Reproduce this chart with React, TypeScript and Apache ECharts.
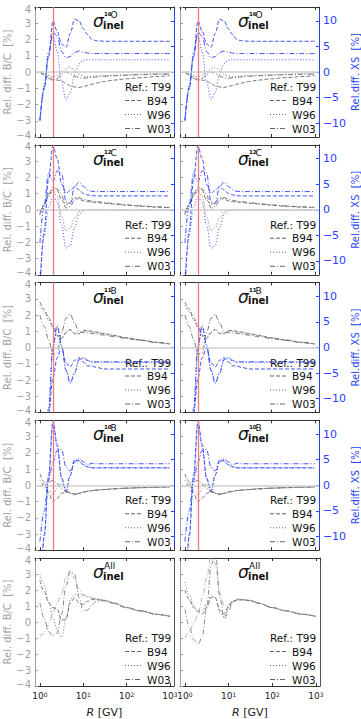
import React, { useEffect, useRef } from 'react';
import * as echarts from 'echarts';

// Rigidity grid (GV)
const R = [1, 1.26, 1.58, 2, 2.5, 3.16, 4, 5, 6.3, 8, 10, 12.6, 15.8, 20, 31.6, 50, 100, 200, 500, 1000];

// ---- 16O ----
const bcO_B94 = [0, -0.15, -0.3, -0.45, -0.5, -0.55, -0.7, -0.85, -0.92, -0.95, -0.9, -0.82, -0.75, -0.68, -0.58, -0.5, -0.42, -0.35, -0.28, -0.22];
const bcO_W96 = [0, -0.1, -0.2, -0.3, -0.2, 0, 0.2, 0.3, 0.1, -0.15, -0.25, -0.28, -0.27, -0.25, -0.22, -0.2, -0.17, -0.14, -0.11, -0.1];
const bcO_W03 = [0, -0.2, -0.4, -0.52, -0.4, -0.15, 0, -0.1, -0.25, -0.35, -0.38, -0.36, -0.33, -0.3, -0.26, -0.23, -0.2, -0.17, -0.14, -0.12];
const xsO_B94 = [-9.6, -3.3, 3.1, 10, 8, 5.5, 4.8, 7.5, 10.3, 10, 8.5, 7.3, 6.4, 6.1, 6, 6, 6, 6, 6, 6];
const xsO_W96 = [-9.3, -2.5, 4, 7.3, 4, -2, -5.4, -4, -0.5, 1.6, 2.3, 2.4, 2.4, 2.4, 2.4, 2.4, 2.4, 2.4, 2.4, 2.4];
const xsO_W03 = [-9.4, -3, 3, 7.8, 7, 4, 2.8, 3, 3.8, 4.1, 3.9, 3.7, 3.6, 3.6, 3.6, 3.6, 3.6, 3.6, 3.6, 3.6];

// ---- 12C ----
const bcC_B94 = [-0.3, 0.3, 0.9, 1.4, 1.2, 0.6, 0.3, 0.5, 0.75, 0.65, 0.55, 0.5, 0.47, 0.45, 0.4, 0.35, 0.28, 0.22, 0.16, 0.12];
const bcC_W96 = [-0.3, 0.2, 0.8, 1.2, 0.8, -0.4, -1.3, -1.1, -0.5, -0.1, 0, 0.02, 0.02, 0.02, 0.01, 0.01, 0, 0, 0, 0];
const bcC_W03 = [-0.2, 0.4, 1.0, 1.1, 1.3, 0.9, 0.1, 0.2, 0.6, 0.75, 0.65, 0.58, 0.53, 0.5, 0.44, 0.38, 0.3, 0.24, 0.18, 0.15];
const xsC_B94 = [-16, -4, 6, 12.5, 10, 5, 3.2, 3.8, 4.5, 3.9, 3.2, 2.9, 2.75, 2.7, 2.7, 2.7, 2.7, 2.7, 2.7, 2.7];
const xsC_W96 = [-13, -5, 0.5, 2.5, 1.5, -3, -7.5, -7, -3.5, -1, -0.2, -0.1, -0.1, -0.1, -0.1, -0.1, -0.1, -0.1, -0.1, -0.1];
const xsC_W03 = [-6.5, 1, 7.2, 5.5, 7.6, 7.2, 1.5, 1.2, 4.5, 5.4, 4.6, 3.9, 3.6, 3.55, 3.55, 3.55, 3.55, 3.55, 3.55, 3.55];

// ---- 11B ----
const bcB11_B94 = [2.8, 2.35, 1.85, 1.3, 0.75, 0.55, 0.9, 1.1, 0.85, 0.85, 1.05, 1.05, 1.0, 0.95, 0.85, 0.75, 0.6, 0.48, 0.32, 0.22];
const bcB11_W96 = [2.6, 2.2, 1.7, 1.2, 0.7, 0.6, 0.95, 1.1, 0.9, 0.85, 1.0, 1.0, 0.95, 0.92, 0.83, 0.73, 0.58, 0.46, 0.31, 0.2];
const bcB11_W03 = [2.0, 1.3, 0.5, -0.45, -0.3, 0.9, 1.8, 2.05, 1.5, 0.95, 0.92, 0.9, 0.87, 0.83, 0.75, 0.67, 0.55, 0.44, 0.3, 0.2];
const xsB11_B94 = [-35, -25, -13, -6, -2, 0, -3, -3.8, -2.5, -2, -2.8, -3.6, -3.6, -3.9, -4.2, -4.2, -4.2, -4.2, -4.2, -4.2];
const xsB11_W96 = [-31, -21, -13, -0.5, 4, 0.3, -4.3, -6.8, -5, -2.5, -2.1, -2.6, -2.9, -2.9, -2.9, -2.9, -2.9, -2.9, -2.9, -2.9];
const xsB11_W03 = [-30, -20, -12, 0.5, 4.3, 0.5, -4.5, -7.1, -5, -2.3, -2, -2.5, -2.8, -2.8, -2.8, -2.8, -2.8, -2.8, -2.8, -2.8];

// ---- 10B ----
const bcB10_B94 = [0.7, 0.2, -0.5, -1.0, -0.8, -0.5, -0.4, -0.45, -0.55, -0.5, -0.42, -0.37, -0.33, -0.3, -0.26, -0.22, -0.18, -0.15, -0.12, -0.1];
const bcB10_W96 = [0.3, 0, -0.3, -0.6, -0.2, 0.1, -0.2, -0.5, -0.6, -0.5, -0.42, -0.37, -0.33, -0.3, -0.26, -0.22, -0.18, -0.15, -0.12, -0.1];
const bcB10_W03 = [-0.1, 0.1, 0.2, 0.3, 0.1, -0.2, -0.4, -0.5, -0.55, -0.5, -0.42, -0.37, -0.33, -0.3, -0.26, -0.22, -0.18, -0.15, -0.12, -0.1];
const xsB10_B94 = [-25, -10, 1.5, 12.6, 8, 1.5, -1.2, 2, 5, 4.8, 4, 3.6, 3.4, 3.4, 3.4, 3.4, 3.4, 3.4, 3.4, 3.4];
const xsB10_W96 = [-24, -9.5, 2, 12, 7.5, 1.2, -1.4, 1.8, 4.8, 4.7, 4, 3.6, 3.4, 3.4, 3.4, 3.4, 3.4, 3.4, 3.4, 3.4];
const xsB10_W03 = [-11, -5, 1, 4.5, 6.8, 7, 3.5, 2.8, 4.5, 5.2, 4.6, 4, 4.3, 4.2, 4.2, 4.2, 4.2, 4.2, 4.2, 4.2];

// ---- All (left and right columns differ) ----
const bcAllL_B94 = [2.6, 1.9, 1.2, 0.9, 0.8, 0.1, 0.2, 1.2, 1.5, 1.2, 1.1, 1.3, 1.4, 1.4, 1.33, 1.17, 0.9, 0.7, 0.48, 0.35];
const bcAllL_W96 = [3.0, 2.3, 1.3, 0.3, -0.5, -0.95, 0.2, 1.4, 1.7, 1.75, 1.65, 1.57, 1.5, 1.45, 1.35, 1.2, 0.92, 0.7, 0.48, 0.35];
const bcAllL_W03 = [1.2, 0.2, -0.6, -0.85, -0.7, 0.5, 2.3, 3.15, 3.0, 1.5, 0.7, 0.75, 1.1, 1.3, 1.33, 1.17, 0.9, 0.7, 0.48, 0.35];
const bcAllL_W03b = [-0.9, -0.7, -0.2, 0.6, 1.2, 1.8, 2.8, 3.2, 2.7, 2.0, 1.7, 1.6, 1.5, 1.45, 1.35, 1.18, 0.9, 0.7, 0.48, 0.35];
const bcAllR_B94 = [2.0, 1.4, 0.9, 0.65, 0.5, 0.9, 1.55, 1.5, 0.7, 0.5, 1.0, 1.3, 1.35, 1.38, 1.33, 1.17, 0.9, 0.7, 0.48, 0.35];
const bcAllR_W96 = [2.5, 1.7, 1.0, 0.75, 0.7, 1.1, 1.7, 1.5, 0.6, 0.3, 0.9, 1.3, 1.4, 1.4, 1.33, 1.17, 0.9, 0.7, 0.48, 0.35];
const bcAllR_W03 = [0.8, -0.3, -1.1, -1.4, -0.9, 1.0, 3.6, 4.3, 1.5, 0.2, 0.7, 1.25, 1.4, 1.4, 1.33, 1.17, 0.9, 0.7, 0.48, 0.35];
const bcAllR_W03b = [-1.0, -0.6, -0.1, 0.5, 1.5, 2.8, 4.3, 3.6, 1.8, 1.0, 1.1, 1.35, 1.45, 1.42, 1.35, 1.18, 0.9, 0.7, 0.48, 0.35];

const LEGEND_NAMES = ['B94', 'W96', 'W03'];
const REF_LABEL = 'Ref.: T99';
const Y_LEFT_TICKS = [-4, -3, -2, -1, 0, 1, 2, 3, 4];
const Y_RIGHT_TICKS = [-10, -5, 0, 5, 10];
const R_CUT = 2; // vertical marker (GV)

type Panel = { iso: string; el: string; bc: number[][]; xs: number[][]; extra?: number[] };
const PANELS: Panel[][] = [
  [
    { iso: '16', el: 'O', bc: [bcO_B94, bcO_W96, bcO_W03], xs: [xsO_B94, xsO_W96, xsO_W03] },
    { iso: '16', el: 'O', bc: [bcO_B94, bcO_W96, bcO_W03], xs: [xsO_B94, xsO_W96, xsO_W03] },
  ],
  [
    { iso: '12', el: 'C', bc: [bcC_B94, bcC_W96, bcC_W03], xs: [xsC_B94, xsC_W96, xsC_W03] },
    { iso: '12', el: 'C', bc: [bcC_B94, bcC_W96, bcC_W03], xs: [xsC_B94, xsC_W96, xsC_W03] },
  ],
  [
    { iso: '11', el: 'B', bc: [bcB11_B94, bcB11_W96, bcB11_W03], xs: [xsB11_B94, xsB11_W96, xsB11_W03] },
    { iso: '11', el: 'B', bc: [bcB11_B94, bcB11_W96, bcB11_W03], xs: [xsB11_B94, xsB11_W96, xsB11_W03] },
  ],
  [
    { iso: '10', el: 'B', bc: [bcB10_B94, bcB10_W96, bcB10_W03], xs: [xsB10_B94, xsB10_W96, xsB10_W03] },
    { iso: '10', el: 'B', bc: [bcB10_B94, bcB10_W96, bcB10_W03], xs: [xsB10_B94, xsB10_W96, xsB10_W03] },
  ],
  [
    { iso: '', el: 'All', bc: [bcAllL_B94, bcAllL_W96, bcAllL_W03], xs: [], extra: bcAllL_W03b },
    { iso: '', el: 'All', bc: [bcAllR_B94, bcAllR_W96, bcAllR_W03], xs: [], extra: bcAllR_W03b },
  ],
];

// layout / style constants
const FONT = 'DejaVu Sans';
const GRID_LEFT = [35, 180];
const GRID_W = [139, 140];
const GRID_TOP0 = 7;
const ROW_STEP = 137.75;
const GRID_H = 130;
const X_MIN = 0.77;
const X_MAX = 1240;
const Y2 = 12.7;
const GRAY = '#777';
const LIGHTGRAY = '#c4c4c4';
const AXGRAY = '#a0a0a0';
const BLUE = '#2a40ff';
const DASHES = [[4, 2], [1, 2], [5, 2, 1, 2]];

const minus = (v: number) => String(v).replace('-', '\u2212');

function buildOption() {
  const grid: any[] = [];
  const xAxis: any[] = [];
  const yAxis: any[] = [];
  const series: any[] = [];
  const graphic: any[] = [];

  PANELS.forEach((row, r) => {
    row.forEach((p, c) => {
      const i = r * 2 + c;
      const left = GRID_LEFT[c];
      const top = GRID_TOP0 + r * ROW_STEP;
      const w = GRID_W[c];
      const isBottom = r === PANELS.length - 1;
      const hasXS = p.xs.length > 0;
      grid.push({ left, top, width: w, height: GRID_H, containLabel: false });

      xAxis.push({
        type: 'log', logBase: 10, gridIndex: i, min: X_MIN, max: X_MAX, position: 'bottom',
        axisLine: { show: true, onZero: false, lineStyle: { color: '#333', width: 1 } },
        axisTick: { show: true, inside: true, length: 3, lineStyle: { color: '#333' } },
        splitLine: { show: false },
        axisLabel: {
          show: isBottom, showMinLabel: false, showMaxLabel: false, color: '#222',
          fontSize: 9, fontFamily: FONT, margin: 5,
          formatter: (v: number) => `10{s|${Math.round(Math.log10(v))}}`,
          rich: { s: { fontSize: 6, fontFamily: FONT, verticalAlign: 'top', color: '#222' } },
        },
        name: isBottom ? '{i|R} [GV]' : '', nameLocation: 'middle', nameGap: 21,
        nameTextStyle: {
          fontSize: 11, fontFamily: FONT, color: '#222',
          rich: { i: { fontStyle: 'italic', fontSize: 11, fontFamily: FONT, color: '#222' } },
        },
      });
      xAxis.push({
        type: 'log', logBase: 10, gridIndex: i, min: X_MIN, max: X_MAX, position: 'top',
        axisLine: { show: true, onZero: false, lineStyle: { color: '#333', width: 1 } },
        axisTick: { show: true, inside: true, length: 3, lineStyle: { color: '#333' } },
        splitLine: { show: false }, axisLabel: { show: false },
      });
      yAxis.push({
        type: 'value', gridIndex: i, min: -4, max: 4, interval: 1, position: 'left',
        axisLine: { show: true, onZero: false, lineStyle: { color: AXGRAY, width: 1 } },
        axisTick: { show: true, inside: true, length: 3, lineStyle: { color: AXGRAY } },
        splitLine: { show: false },
        axisLabel: {
          show: c === 0, color: AXGRAY, fontSize: 10, fontFamily: FONT, margin: 4,
          formatter: (v: number) => {
            if (!Y_LEFT_TICKS.includes(v)) return '';
            if (v === Y_LEFT_TICKS[Y_LEFT_TICKS.length - 1]) return `{t|${minus(v)}}`;
            if (v === Y_LEFT_TICKS[0]) return `{b|${minus(v)}}`;
            return minus(v);
          },
          rich: {
            t: { fontSize: 10, fontFamily: FONT, color: AXGRAY, padding: [4, 0, 0, 0] },
            b: { fontSize: 10, fontFamily: FONT, color: AXGRAY, padding: [0, 0, 4, 0] },
          },
        },
        name: c === 0 ? 'Rel. diff. B/C  [%]' : '', nameLocation: 'middle', nameGap: 20, nameRotate: 90,
        nameTextStyle: { color: AXGRAY, fontSize: 10, fontFamily: FONT },
      });
      yAxis.push({
        type: 'value', gridIndex: i, min: -Y2, max: Y2, position: 'right',
        axisLine: { show: true, onZero: false, lineStyle: { color: hasXS ? BLUE : '#555', width: 1 } },
        axisTick: { show: hasXS, inside: true, length: 3, customValues: Y_RIGHT_TICKS, lineStyle: { color: BLUE } },
        splitLine: { show: false },
        axisLabel: {
          show: c === 1 && hasXS, color: BLUE, fontSize: 11, fontFamily: FONT, margin: 4,
          customValues: Y_RIGHT_TICKS, formatter: (v: number) => minus(v),
        },
        name: c === 1 && hasXS ? 'Rel.diff. XS  [%]' : '', nameLocation: 'middle', nameGap: 26, nameRotate: 90,
        nameTextStyle: { color: BLUE, fontSize: 10, fontFamily: FONT },
      });

      // reference line (T99) + cut marker, only in single-XS panels
      if (hasXS) {
        series.push({
          type: 'line', xAxisIndex: 2 * i, yAxisIndex: 2 * i, data: [], z: 1, silent: true,
          markLine: {
            silent: true, symbol: ['none', 'none'], label: { show: false }, animation: false,
            data: [
              { yAxis: 0, lineStyle: { color: '#cfcfcf', width: 1.6, type: 'solid' } },
              { xAxis: R_CUT, lineStyle: { color: '#ee7a7a', width: 1.3, type: 'solid' } },
            ],
          },
        });
      }

      const mk = (vals: number[], yIdx: number, color: string, dash: number[], width = 1) => ({
        type: 'line', xAxisIndex: 2 * i, yAxisIndex: yIdx, showSymbol: false, symbol: 'none',
        smooth: 0.35, smoothMonotone: 'x', z: 3, silent: true,
        lineStyle: { color, width, type: dash },
        data: R.map((x, k) => [x, vals[k]]),
      });
      if (p.extra) series.push(mk(p.extra, 2 * i, LIGHTGRAY, DASHES[2], 1.2));
      p.bc.forEach((vals, k) => series.push(mk(vals, 2 * i, k === 2 && p.extra ? '#8a8a8a' : GRAY, DASHES[k])));
      p.xs.forEach((vals, k) => series.push(mk(vals, 2 * i + 1, BLUE, DASHES[k], 0.9)));

      // panel title sigma^{iso el}_{inel}
      const tx = left + 58;
      graphic.push({
        type: 'text', x: tx, y: top + 14, silent: true,
        style: { text: '\u03c3', fontSize: 17, fontStyle: 'italic', fontFamily: FONT, fill: '#111', verticalAlign: 'middle' },
      });
      if (p.iso) {
        graphic.push({
          type: 'text', x: tx + 11, y: top + 7, silent: true,
          style: { text: p.iso, fontSize: 5.5, fontWeight: 'bold', fontFamily: FONT, fill: '#111', verticalAlign: 'middle' },
        });
        graphic.push({
          type: 'text', x: tx + 17.5, y: top + 8, silent: true,
          style: { text: p.el, fontSize: 9, fontFamily: FONT, fill: '#111', verticalAlign: 'middle' },
        });
      } else {
        graphic.push({
          type: 'text', x: tx + 11, y: top + 8, silent: true,
          style: { text: p.el, fontSize: 9, fontFamily: FONT, fill: '#111', verticalAlign: 'middle' },
        });
      }
      graphic.push({
        type: 'text', x: tx + 10, y: top + 18, silent: true,
        style: { text: 'inel', fontSize: 10, fontWeight: 'bold', fontFamily: FONT, fill: '#111', verticalAlign: 'middle' },
      });

      // legend
      graphic.push({
        type: 'text', x: left + 90, y: top + 80, silent: true,
        style: { text: REF_LABEL, fontSize: 10.5, fontFamily: FONT, fill: '#111', verticalAlign: 'middle' },
      });
      LEGEND_NAMES.forEach((nm, k) => {
        const ly = top + 93.5 + k * 14;
        graphic.push({
          type: 'line', silent: true,
          shape: { x1: left + 90, y1: ly, x2: left + 106, y2: ly },
          style: { stroke: '#666', lineWidth: 1, lineDash: DASHES[k] },
        });
        graphic.push({
          type: 'text', x: left + 112, y: ly, silent: true,
          style: { text: nm, fontSize: 10.5, fontFamily: FONT, fill: '#111', verticalAlign: 'middle' },
        });
      });
    });
  });

  return {
    animation: false,
    backgroundColor: '#fff',
    textStyle: { fontFamily: FONT },
    grid, xAxis, yAxis, series, graphic,
  };
}

export default function App() {
  const ref = useRef<HTMLDivElement>(null);
  useEffect(() => {
    if (!ref.current) return;
    const chart = echarts.init(ref.current, undefined, { renderer: 'svg' });
    chart.setOption(buildOption() as any);
    return () => chart.dispose();
  }, []);
  return <div ref={ref} style={{ position: 'fixed', left: 0, top: 0, width: 361, height: 719 }} />;
}
